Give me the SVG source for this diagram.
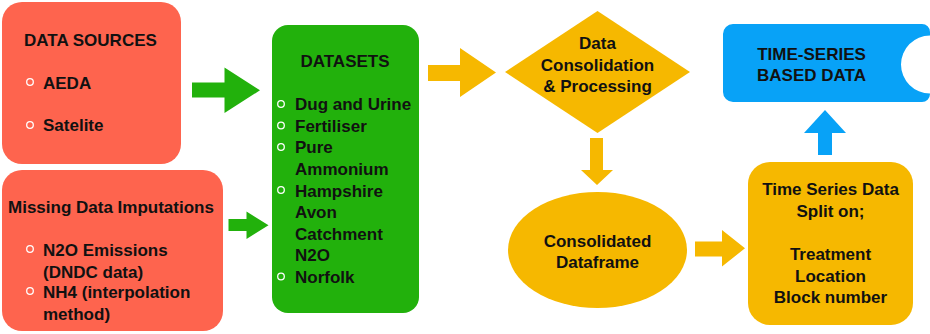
<svg xmlns="http://www.w3.org/2000/svg" width="930" height="334" viewBox="0 0 930 334">
<style>
text{font-family:"Liberation Sans",Arial,sans-serif;font-weight:bold;font-size:17px;fill:#111}
.c{text-anchor:middle}
.red{fill:#fe644e}
.green{fill:#22b10c}
.orange{fill:#f6b800}
.blue{fill:#08a2f7}
.bul{fill:none;stroke:#fff;stroke-width:1.3}
</style>
<rect width="930" height="334" fill="#fff"/>
<g id="connectors">
<polygon class="green" points="192,82.5 224.5,82.5 224.5,67.5 260,90.3 224.5,113 224.5,97.5 192,97.5"/>
<polygon class="green" points="228.5,219 246.5,219 246.5,211.5 268.5,225.3 246.5,239 246.5,231 228.5,231"/>
<polygon class="orange" points="428,65 460,65 460,48 496,72.5 460,97 460,81 428,81"/>
<polygon class="orange" points="590,138 603,138 603,170 613,170 597,185 581,170 590,170"/>
<polygon class="orange" points="695,241.5 722,241.5 722,230 745,248.3 722,266.5 722,256.5 695,256.5"/>
<polygon class="blue" points="818,155 832,155 832,133 846,133 825,110 804,133 818,133"/>
</g>
<g id="data-sources">
<rect class="red" x="2" y="2" width="179" height="162" rx="20"/>
<text x="24" y="46">DATA SOURCES</text>
<circle class="bul" cx="30" cy="82" r="3.3"/>
<text x="43" y="89">AEDA</text>
<circle class="bul" cx="30" cy="125" r="3.3"/>
<text x="43" y="131">Satelite</text>
</g>
<g id="missing-data">
<rect class="red" x="2" y="170" width="221" height="161" rx="20"/>
<text x="8" y="213">Missing Data Imputations</text>
<circle class="bul" cx="30" cy="249" r="3.3"/>
<text x="43" y="256">N2O Emissions</text>
<text x="43" y="278">(DNDC data)</text>
<circle class="bul" cx="30" cy="291" r="3.3"/>
<text x="43" y="298">NH4 (interpolation</text>
<text x="43" y="320">method)</text>
</g>
<g id="datasets">
<rect class="green" x="272" y="25" width="147" height="288" rx="16"/>
<text class="c" x="345" y="67">DATASETS</text>
<circle class="bul" cx="281" cy="104" r="3.3"/>
<text x="295" y="110">Dug and Urine</text>
<circle class="bul" cx="281" cy="125.5" r="3.3"/>
<text x="295" y="132">Fertiliser</text>
<circle class="bul" cx="281" cy="147" r="3.3"/>
<text x="295" y="153">Pure</text>
<text x="295" y="175">Ammonium</text>
<circle class="bul" cx="281" cy="190" r="3.3"/>
<text x="295" y="197">Hampshire</text>
<text x="295" y="218">Avon</text>
<text x="295" y="239.5">Catchment</text>
<text x="295" y="261">N2O</text>
<circle class="bul" cx="281" cy="276.5" r="3.3"/>
<text x="295" y="283">Norfolk</text>
</g>
<g id="consolidation">
<polygon class="orange" points="597.5,11 690,72 597.5,133 505,72"/>
<text class="c" x="597.5" y="49">Data</text>
<text class="c" x="597.5" y="70.5">Consolidation</text>
<text class="c" x="597.5" y="92">&amp; Processing</text>
</g>
<g id="dataframe">
<ellipse class="orange" cx="597.5" cy="250" rx="89.5" ry="58"/>
<text class="c" x="597.5" y="246.5">Consolidated</text>
<text class="c" x="597.5" y="267.5">Dataframe</text>
</g>
<g id="split">
<rect class="orange" x="748" y="162" width="165" height="163" rx="22"/>
<text class="c" x="830.5" y="195">Time Series Data</text>
<text class="c" x="830.5" y="216.5">Split on;</text>
<text class="c" x="830.5" y="260">Treatment</text>
<text class="c" x="830.5" y="281.5">Location</text>
<text class="c" x="830.5" y="303">Block number</text>
</g>
<g id="time-series">
<path class="blue" d="M733,24 H922 A8,8 0 0 1 930,32 V35.5 A29,29 0 0 0 930,93.5 V94 A8,8 0 0 1 922,102 H733 A10,10 0 0 1 723,92 V34 A10,10 0 0 1 733,24 Z"/>
<text class="c" x="811.5" y="59.5">TIME-SERIES</text>
<text class="c" x="811.5" y="80.5">BASED DATA</text>
</g>
</svg>
